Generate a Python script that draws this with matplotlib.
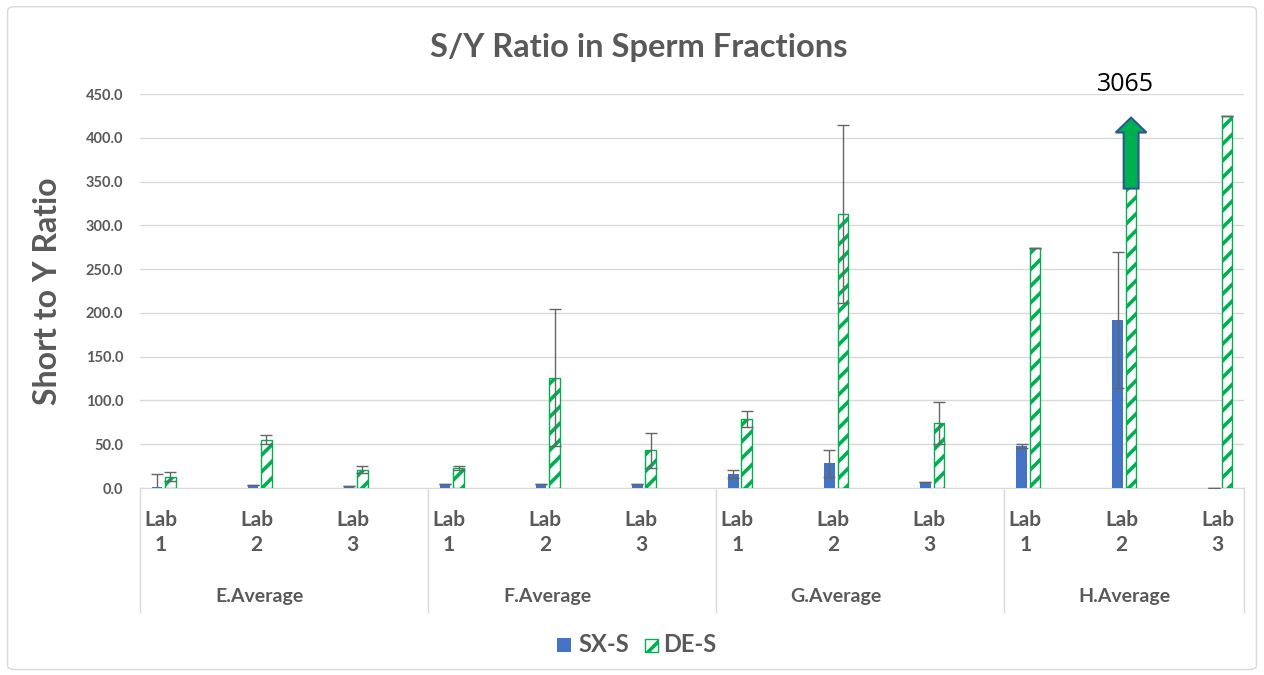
import numpy as np
import matplotlib; matplotlib.use("Agg")
import matplotlib.pyplot as plt
from matplotlib.patches import FancyArrow, FancyBboxPatch, Rectangle
import matplotlib.transforms as mtransforms

plt.rcParams["font.family"] = ["Lato", "DejaVu Sans"]
plt.rcParams["hatch.linewidth"] = 2.6

groups = ["E.Average", "F.Average", "G.Average", "H.Average"]
labs = ["Lab\n1", "Lab\n2", "Lab\n3"]
sx = [1.5, 3, 2.5, 5, 4, 4, 16, 28, 7, 48, 192, 0.5]
sx_err = [14, 0, 0, 0, 0, 0, 5, 15, 0, 2, 78, 0]
de = [13, 55, 21, 23, 126, 43, 79, 313, 74, 274, 3065, 425]
de_err = [5, 5, 4, 2, 78, 20, 9, 102, 24, 0, 0, 0]
big_label = "3065"

BLUE, GREEN, GREY = "#4472C4", "#00B050", "#595959"
fig = plt.figure(figsize=(12.64, 6.75), dpi=100)
fig.patches.append(FancyBboxPatch((0.006, 0.008), 0.988, 0.982, boxstyle="round,pad=0,rounding_size=0.006",
                                  transform=fig.transFigure, fc="none", ec="#D9D9D9", lw=1.0, zorder=-1))
ax = fig.add_axes([140 / 1264, 1 - 488 / 675, (1244 - 140) / 1264, (488 - 94) / 675])
ax.patch.set_alpha(0)

x = np.arange(len(sx))
w, off = 0.11, 0.07
ax.bar(x - off, sx, w, color=BLUE, zorder=3)
de_bars = ax.bar(x + off, de, w, color="white", edgecolor=GREEN, hatch="//", lw=1.0, zorder=3)
ax.errorbar(x - off, sx, yerr=sx_err, fmt="none", ecolor="#666666", elinewidth=1.0, capsize=4, zorder=4)
ax.errorbar(x + off, de, yerr=de_err, fmt="none", ecolor="#666666", elinewidth=1.0, capsize=4, zorder=4)

# off-scale bar: show it only up to the arrow, then the arrow + value
i_big = int(np.argmax(de))
arrow_base = 342
clip = Rectangle((i_big - 1, 0), 2, arrow_base, transform=ax.transData)
de_bars[i_big].set_clip_path(clip)
ax.add_patch(FancyArrow(i_big + off, arrow_base, 0, 81, width=0.155, head_width=0.32, head_length=17,
                        length_includes_head=True, fc=GREEN, ec="#2F5597", lw=1.5, zorder=5))
ax.text(i_big + off - 0.06, 461, big_label, ha="center", va="center", fontsize=18, color="black",
        family=["Open Sans", "DejaVu Sans"], clip_on=False)

ax.set_xlim(-0.245, 11.245)
ax.set_ylim(0, 450)
ax.set_yticks(np.arange(0, 451, 50))
ax.set_yticklabels([f"{v:.1f}" for v in np.arange(0, 451, 50)], fontsize=10.5, fontweight="bold", color=GREY)
ax.tick_params(axis="y", length=0, pad=12)
ax.set_xticks([])
ax.grid(axis="y", color="#D9D9D9", lw=1.0, zorder=0)
for s in ["top", "right", "left"]:
    ax.spines[s].set_visible(False)
ax.spines["bottom"].set_color("#D9D9D9")

# two-level category axis
tr = mtransforms.blended_transform_factory(ax.transData, ax.transAxes)
for xs in [-0.245, 2.75, 5.75, 8.75, 11.245]:
    ax.plot([xs, xs], [0, -0.315], transform=tr, color="#D9D9D9", lw=1.0, clip_on=False)
for i in range(len(sx)):
    ax.text(i - 0.03, -0.113, labs[i % 3], transform=tr, ha="center", va="center", fontsize=15,
            fontweight="bold", color=GREY, linespacing=1.3)
for g, name in enumerate(groups):
    ax.text(3 * g + 1, -0.275, name, transform=tr, ha="center", va="center", fontsize=14,
            fontweight="bold", color=GREY)

ax.set_ylabel("Short to Y Ratio", fontsize=23, fontweight="bold", color=GREY)
ax.yaxis.set_label_coords(-0.071, 0.5)
fig.text(0.505, 1 - 48 / 675, "S/Y Ratio in Sperm Fractions", ha="center", va="center",
         fontsize=23.5, fontweight="bold", color=GREY)

# legend
fig.patches.append(plt.Rectangle((557 / 1264, 1 - 652 / 675), 14 / 1264, 14 / 675, transform=fig.transFigure,
                                 fc=BLUE, ec="none"))
fig.text(578 / 1264, 1 - 645 / 675, "SX-S", ha="left", va="center", fontsize=17, fontweight="bold", color=GREY)
fig.patches.append(plt.Rectangle((645 / 1264, 1 - 652 / 675), 13 / 1264, 13 / 675, transform=fig.transFigure,
                                 fc="white", ec=GREEN, hatch="//", lw=1.0))
fig.text(663 / 1264, 1 - 645 / 675, "DE-S", ha="left", va="center", fontsize=17, fontweight="bold", color=GREY)

fig.savefig("out.png", dpi=100)
